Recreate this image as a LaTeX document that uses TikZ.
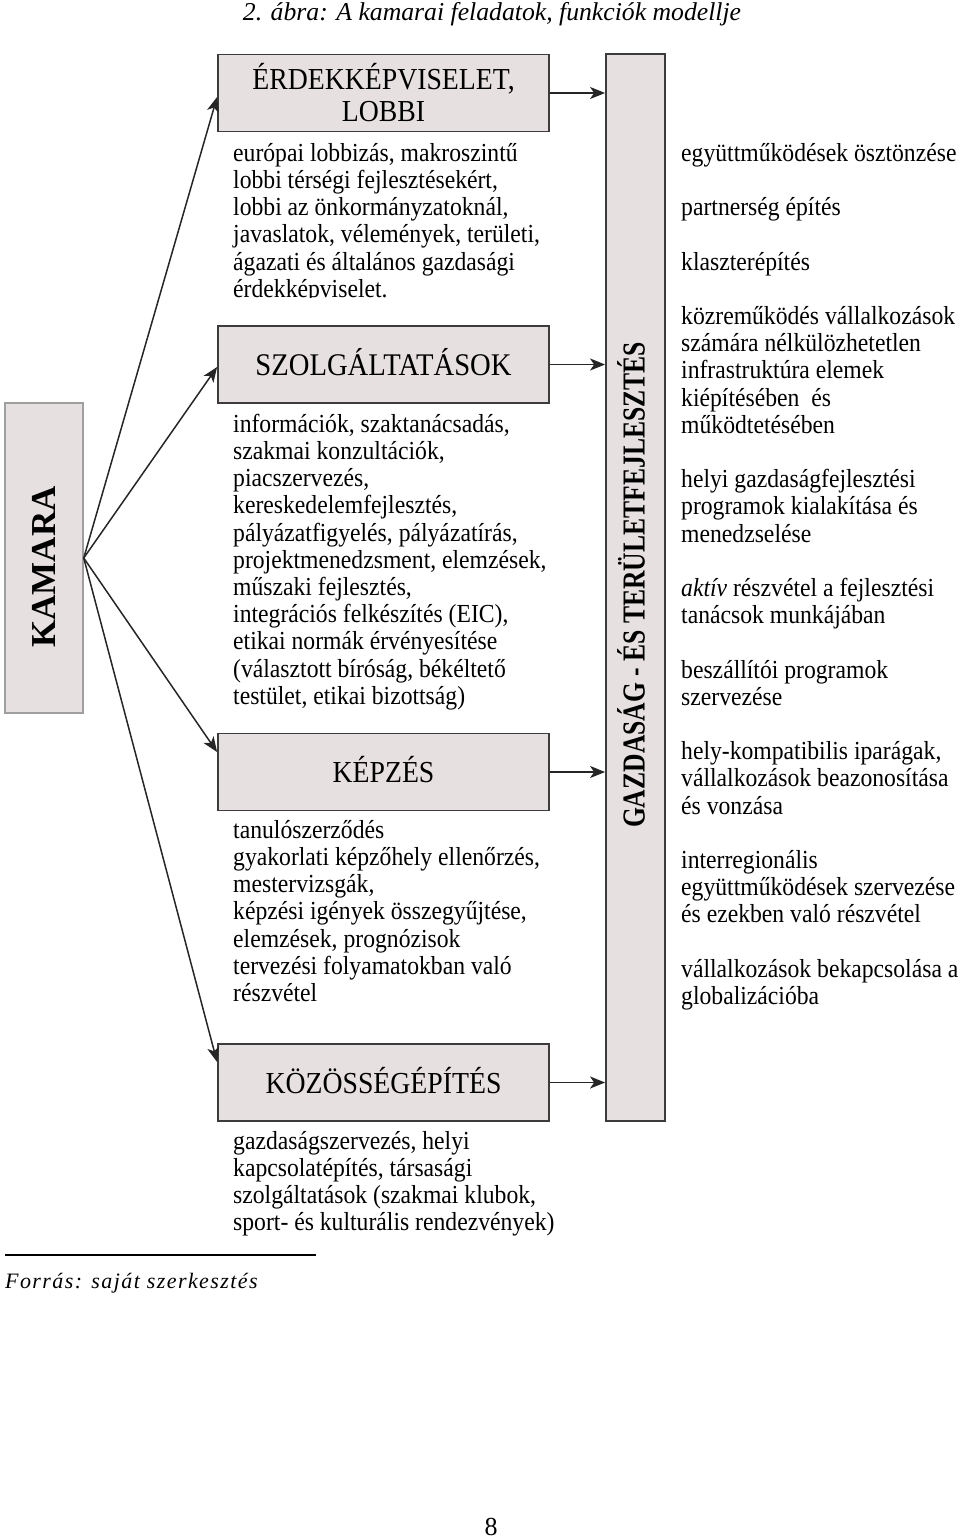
\documentclass[tikz,border=0pt]{standalone}
\usepackage{fontspec}
\setmainfont{Liberation Serif}[FakeStretch=0.91]
\newfontfamily\plainserif{Liberation Serif}
\newfontfamily\condbold{Liberation Serif}[FakeStretch=0.8]
\newfontfamily\srcfont{Liberation Serif}[LetterSpace=6.5]
\usetikzlibrary{arrows.meta}
\definecolor{boxfill}{RGB}{230,224,225}
\definecolor{boxline}{RGB}{60,60,60}
\tikzset{
  hbox/.style={draw=boxline, line width=1.8pt, fill=boxfill, minimum width=331pt, minimum height=77pt, inner sep=0pt, font=\fontsize{30.5}{32}\selectfont, align=center},
  onebox/.style={hbox, text height=21pt, text depth=0pt},
  bodytext/.style={anchor=north west, inner sep=0pt, align=left, font=\fontsize{26}{27.2}\selectfont},
  arr/.style={line width=1.5pt, draw=black!85, -{Stealth[length=15pt,width=12pt,inset=4pt]}},
}
\begin{document}
\begin{tikzpicture}[x=1pt,y=-1pt]
\useasboundingbox (0,0) rectangle (960,1539);
\node[font=\plainserif\itshape\fontsize{25.7}{27}\selectfont] (title) at (492,14) {2. ábra: A kamarai feladatok, funkciók modellje};

\node[draw=gray!75, line width=1.5pt, fill=boxfill, minimum width=78pt, minimum height=310pt, inner sep=0pt] (kamara) at (44,558) {};
\node[rotate=90, inner sep=0pt, text height=23pt, text depth=0pt, font=\plainserif\bfseries\fontsize{35}{35}\selectfont] (kamaralbl) at (44,567) {KAMARA};

\node[draw=boxline, line width=1.8pt, fill=boxfill, minimum width=59pt, minimum height=1067pt, inner sep=0pt] (gazd) at (635.5,587.5) {};
\node[rotate=90, inner sep=0pt, text height=21pt, text depth=0pt, font=\condbold\bfseries\fontsize{32}{32}\selectfont] (gazdlbl) at (634,585) {GAZDASÁG - ÉS TERÜLETFEJLESZTÉS};

\node[hbox] (erdek) at (383.5,93) {ÉRDEKKÉPVISELET,\\LOBBI};
\node[onebox, font=\fontsize{31.5}{32}\selectfont] (szolg) at (383.5,364.5) {SZOLGÁLTATÁSOK};
\node[onebox] (kepzes) at (383.5,772) {KÉPZÉS};
\node[onebox] (kozos) at (383.5,1082.5) {KÖZÖSSÉGÉPÍTÉS};

\begin{scope}
\clip (200,130) rectangle (600,297);
\node[bodytext] (erdektxt) at (233,142) {\strut európai lobbizás, makroszintű\\lobbi térségi fejlesztésekért,\\lobbi az önkormányzatoknál,\\javaslatok, vélemények, területi,\\ágazati és általános gazdasági\\érdekképviselet.};
\end{scope}

\node[bodytext] (szolgtxt) at (233,413) {\strut információk, szaktanácsadás,\\szakmai konzultációk,\\piacszervezés,\\kereskedelemfejlesztés,\\pályázatfigyelés, pályázatírás,\\projektmenedzsment, elemzések,\\műszaki fejlesztés,\\integrációs felkészítés (EIC),\\etikai normák érvényesítése\\(választott bíróság, békéltető\\testület, etikai bizottság)};

\node[bodytext] (kepzestxt) at (233,819) {\strut tanulószerződés\\gyakorlati képzőhely ellenőrzés,\\mestervizsgák,\\képzési igények összegyűjtése,\\elemzések, prognózisok\\tervezési folyamatokban való\\részvétel};

\node[bodytext] (kozostxt) at (233,1130) {\strut gazdaságszervezés, helyi\\kapcsolatépítés, társasági\\szolgáltatások (szakmai klubok,\\sport- és kulturális rendezvények)};

\node[bodytext] (righttxt) at (681,142) {\strut együttműködések ösztönzése\\[27.2pt]partnerség építés\\[27.2pt]klaszterépítés\\[27.2pt]közreműködés vállalkozások\\számára nélkülözhetetlen\\infrastruktúra elemek\\kiépítésében~ és\\működtetésében\\[27.2pt]helyi gazdaságfejlesztési\\programok kialakítása és\\menedzselése\\[27.2pt]\textit{aktív} részvétel a fejlesztési\\tanácsok munkájában\\[27.2pt]beszállítói programok\\szervezése\\[27.2pt]hely-kompatibilis iparágak,\\vállalkozások beazonosítása\\és vonzása\\[27.2pt]interregionális\\együttműködések szervezése\\és ezekben való részvétel\\[27.2pt]vállalkozások bekapcsolása a\\globalizációba};

\draw[arr] (kamara.east) -- ([yshift=-4pt]erdek.west);
\draw[arr] (kamara.east) -- ([yshift=-2.5pt]szolg.west);
\draw[arr] (kamara.east) -- ([yshift=20pt]kepzes.west);
\draw[arr] (kamara.east) -- ([yshift=20.5pt]kozos.west);

\draw[arr] (erdek.east) -- (erdek.east -| gazd.west);
\draw[arr] (szolg.east) -- (szolg.east -| gazd.west);
\draw[arr] (kepzes.east) -- (kepzes.east -| gazd.west);
\draw[arr] (kozos.east) -- (kozos.east -| gazd.west);

\draw[line width=1.2pt] (5,1255) -- (316,1255);
\node[anchor=west, inner sep=0pt, font=\srcfont\itshape\fontsize{22}{24}\selectfont] (src) at (5,1283) {Forrás: saját szerkesztés};
\node[font=\plainserif\fontsize{26}{28}\selectfont] (pg) at (491,1527) {8};
\end{tikzpicture}
\end{document}
